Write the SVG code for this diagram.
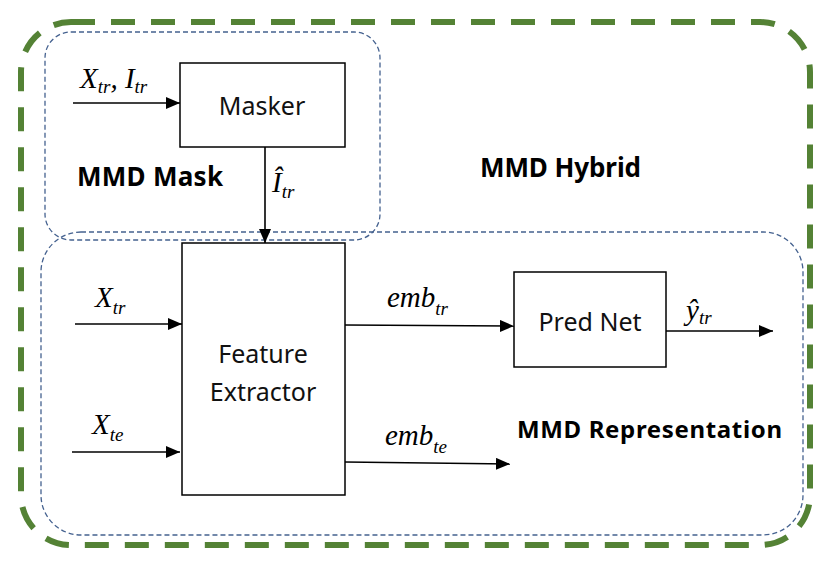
<svg xmlns="http://www.w3.org/2000/svg" width="830" height="576" viewBox="0 0 830 576">
<style>
.bg{fill:#ffffff}
.hybrid{fill:none;stroke:#548235;stroke-width:6;stroke-dasharray:24 16}
.region{fill:none;stroke:#44618f;stroke-width:1.3;stroke-dasharray:5 3}
.box{fill:#ffffff;stroke:#000000;stroke-width:1.5}
.edge{fill:none;stroke:#000000;stroke-width:1.6}
.lbl{font-family:"Noto Sans","Liberation Sans",sans-serif;font-size:25px;fill:#111111;text-anchor:middle}
.grp{font-family:"Noto Sans","DejaVu Sans",sans-serif;font-weight:bold;font-size:26px;fill:#000000}
.math{font-family:"Liberation Serif","DejaVu Serif",serif;font-style:italic;font-size:29px;fill:#000000}
.sub{font-size:19px}
</style>
<defs>
<marker id="arr" viewBox="0 0 14 12" refX="14" refY="6" markerWidth="14" markerHeight="12" markerUnits="userSpaceOnUse" orient="auto">
<path d="M0,0 L14,6 L0,12 z" fill="#000000"/>
</marker>
</defs>
<rect class="bg" x="0" y="0" width="830" height="576"/>
<g id="mmd-hybrid">
<rect class="hybrid" x="21" y="22" width="789" height="523" rx="50" ry="50"/>
<text class="grp" x="480" y="177" textLength="161">MMD Hybrid</text>
</g>
<g id="mmd-mask">
<rect class="region" x="45" y="32" width="335" height="208" rx="26" ry="26"/>
<text class="grp" x="77" y="186" textLength="146">MMD Mask</text>
</g>
<g id="mmd-representation">
<rect class="region" x="41" y="232" width="762" height="303" rx="40" ry="40"/>
<text class="grp" x="517" y="438" style="font-size:24px" textLength="265">MMD Representation</text>
</g>
<g id="masker">
<rect class="box" x="180" y="63" width="165" height="84"/>
<text class="lbl" x="262" y="115">Masker</text>
</g>
<g id="feature-extractor">
<rect class="box" x="182" y="243" width="163" height="252"/>
<text class="lbl" x="263" y="363">Feature</text>
<text class="lbl" x="263" y="401">Extractor</text>
</g>
<g id="pred-net">
<rect class="box" x="514" y="272" width="152" height="95"/>
<text class="lbl" x="590" y="331">Pred Net</text>
</g>
<g id="connectors">
<line class="edge" x1="73" y1="103" x2="180" y2="103" marker-end="url(#arr)"/>
<line class="edge" x1="265" y1="147" x2="265" y2="243" marker-end="url(#arr)"/>
<line class="edge" x1="75" y1="324" x2="182" y2="324" marker-end="url(#arr)"/>
<line class="edge" x1="72" y1="452" x2="180" y2="452" marker-end="url(#arr)"/>
<line class="edge" x1="345" y1="325" x2="514" y2="326" marker-end="url(#arr)"/>
<line class="edge" x1="345" y1="462" x2="510" y2="464" marker-end="url(#arr)"/>
<line class="edge" x1="666" y1="331" x2="773" y2="331" marker-end="url(#arr)"/>
<text class="math" x="80" y="88">X<tspan class="sub" dy="5">tr</tspan><tspan dy="-5">, I</tspan><tspan class="sub" dy="5">tr</tspan></text>
<text class="math" x="272" y="192">Î<tspan class="sub" dy="6">tr</tspan></text>
<text class="math" x="95" y="307">X<tspan class="sub" dy="7">tr</tspan></text>
<text class="math" x="92" y="434">X<tspan class="sub" dy="7">te</tspan></text>
<text class="math" x="387" y="307">emb<tspan class="sub" dy="8">tr</tspan></text>
<text class="math" x="385" y="445">emb<tspan class="sub" dy="8">te</tspan></text>
<text class="math" x="686" y="320">ŷ<tspan class="sub" dy="4">tr</tspan></text>
</g>
</svg>
